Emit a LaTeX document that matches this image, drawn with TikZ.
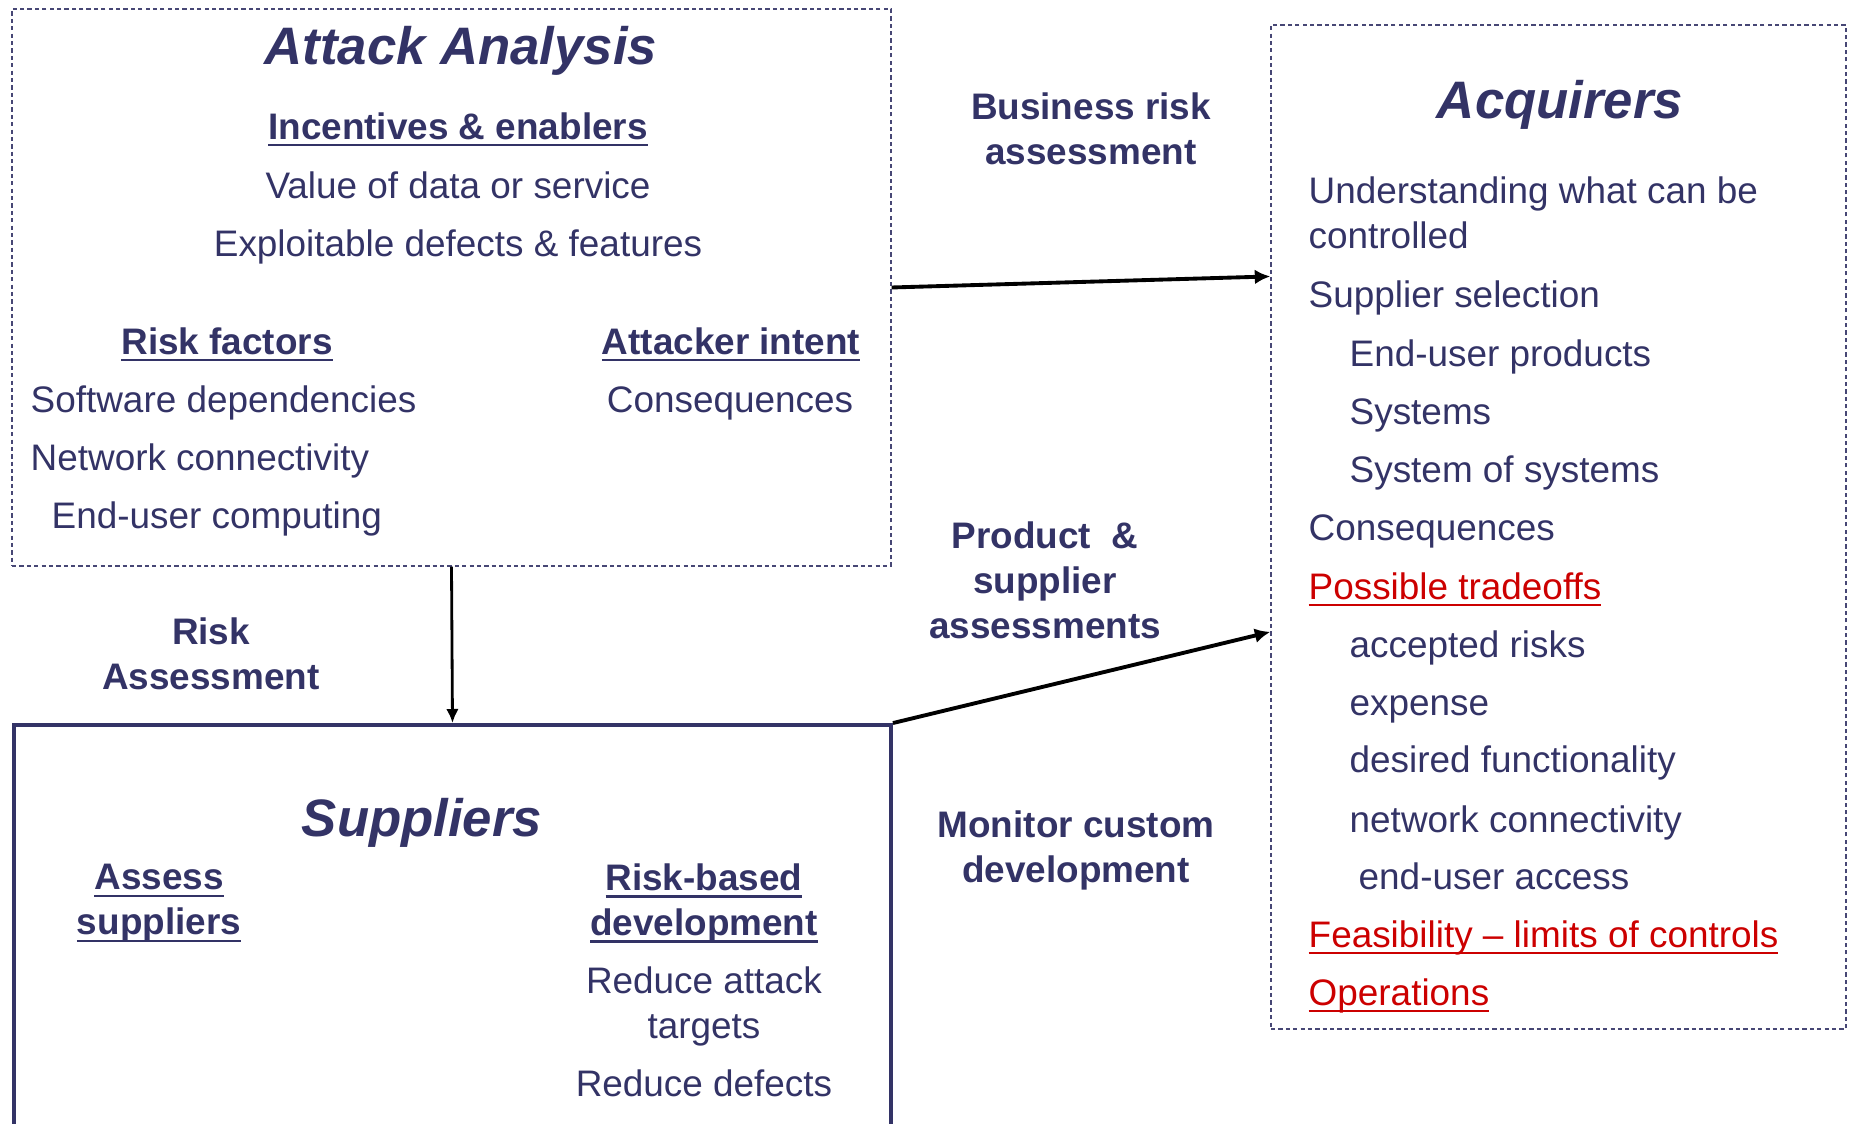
\documentclass[tikz,border=0pt]{standalone}
\usepackage{fontspec}
\setmainfont{Liberation Sans}
\usepackage{tikz}
\usetikzlibrary{shapes}
\usetikzlibrary{arrows.meta}
\definecolor{navy}{RGB}{51,51,102}
\definecolor{darkred}{RGB}{204,0,0}
\newsavebox{\ulbox}
\newcommand{\uln}[1]{\sbox{\ulbox}{#1}\rlap{\rule[-2pt]{\wd\ulbox}{0.6pt}}\usebox{\ulbox}}
\tikzset{
  frame node/.style={draw=navy!90,line width=0.4pt,dash pattern=on 1.2pt off 0.9pt,inner sep=0pt},
  solid frame/.style={draw=navy,line width=1.1pt,inner sep=0pt},
  body text/.style={font=\fontsize{10.5}{12.8}\selectfont,text=navy,inner sep=0pt},
  one line/.style={text height=7.5pt,text depth=0pt},
  head text/.style={body text,font=\fontsize{10.5}{12.8}\selectfont\bfseries},
  flow text/.style={head text,align=center},
  title text/.style={body text,font=\fontsize{15}{18}\selectfont\bfseries\itshape,text height=10.7pt,text depth=0pt},
  acq item/.style={body text,one line,anchor=west},
  red item/.style={acq item,text=darkred}
}
\begin{document}
\begin{tikzpicture}
  \useasboundingbox (0,0) rectangle (18.52,-11.24);

  % the three boxes
  \node[frame node,minimum width=8.79cm,minimum height=5.57cm] (attack) at (4.515,-2.875) {};
  \node[frame node,minimum width=5.75cm,minimum height=10.04cm] (acquirers) at (15.585,-5.27) {};
  \node[solid frame,minimum width=8.77cm,minimum height=4.15cm] (suppliers) at (4.525,-9.325) {};

  % attack analysis
  \node[title text] (aatitle) at (4.61,-0.46) {Attack Analysis};
  \node[head text,one line] (incent) at (4.58,-1.26) {\uln{Incentives \& enablers}};
  \node[body text,one line] (value) at (4.58,-1.85) {Value of data or service};
  \node[body text,one line] (exploit) at (4.58,-2.43) {Exploitable defects \& features};
  \node[head text,one line] (riskf) at (2.27,-3.41) {\uln{Risk factors}};
  \node[acq item] (softdep) at (0.30,-3.99) {Software dependencies};
  \node[acq item] (netcon) at (0.30,-4.57) {Network connectivity};
  \node[acq item] (enduser) at (0.51,-5.15) {End-user computing};
  \node[head text,one line] (intent) at (7.31,-3.41) {\uln{Attacker intent}};
  \node[body text,one line] (conseq) at (7.30,-3.99) {Consequences};

  % labels between the boxes
  \node[flow text] (busrisk) at (10.91,-1.285) {Business risk\\assessment};
  \node[flow text] (prodsup) at (10.45,-5.805) {Product~~\&\\supplier\\assessments};
  \node[flow text] (monitor) at (10.76,-8.50) {Monitor custom\\development};
  \node[flow text] (riskass) at (2.11,-6.54) {Risk\\Assessment};

  % suppliers
  \node[title text] (suptitle) at (4.22,-8.18) {Suppliers};
  \node[flow text] (assess) at (1.59,-9.035) {\uln{Assess}\\\uln{suppliers}};
  \node[flow text] (riskdev) at (7.04,-9.035) {\uln{Risk-based}\\\uln{development}};
  \node[body text,align=center] (reduce) at (7.04,-10.06) {Reduce attack\\targets};
  \node[body text,one line] (defects) at (7.04,-10.83) {Reduce defects};

  % acquirers
  \node[title text] (acqtitle) at (15.60,-1.00) {Acquirers};
  \node[body text,anchor=west,align=left] (underst) at (13.08,-2.13) {Understanding what can be\\controlled};
  \node[acq item] (suppsel) at (13.08,-2.94) {Supplier selection};
  \node[acq item] (products) at (13.49,-3.53) {End-user products};
  \node[acq item] (systems) at (13.49,-4.11) {Systems};
  \node[acq item] (sysofsys) at (13.49,-4.69) {System of systems};
  \node[acq item] (acqcons) at (13.08,-5.27) {Consequences};
  \node[red item] (tradeoff) at (13.08,-5.86) {\uln{Possible tradeoffs}};
  \node[acq item] (accepted) at (13.49,-6.44) {accepted risks};
  \node[acq item] (expense) at (13.49,-7.02) {expense};
  \node[acq item] (desired) at (13.49,-7.59) {desired functionality};
  \node[acq item] (network) at (13.49,-8.19) {network connectivity};
  \node[acq item] (access) at (13.58,-8.76) {end-user access};
  \node[red item] (feasible) at (13.08,-9.34) {\uln{Feasibility -- limits of controls}};
  \node[red item] (operate) at (13.08,-9.92) {\uln{Operations}};

  \path[->,>={Latex[length=4.4pt,width=4.2pt]},line width=1.1pt]
    (attack.east) edge (acquirers.139.3)
    (suppliers.north east) edge (acquirers.200);
  \path[->,>={Latex[length=4pt,width=3.6pt]},line width=0.8pt]
    (attack.south) edge (suppliers.north);
\end{tikzpicture}
\end{document}
